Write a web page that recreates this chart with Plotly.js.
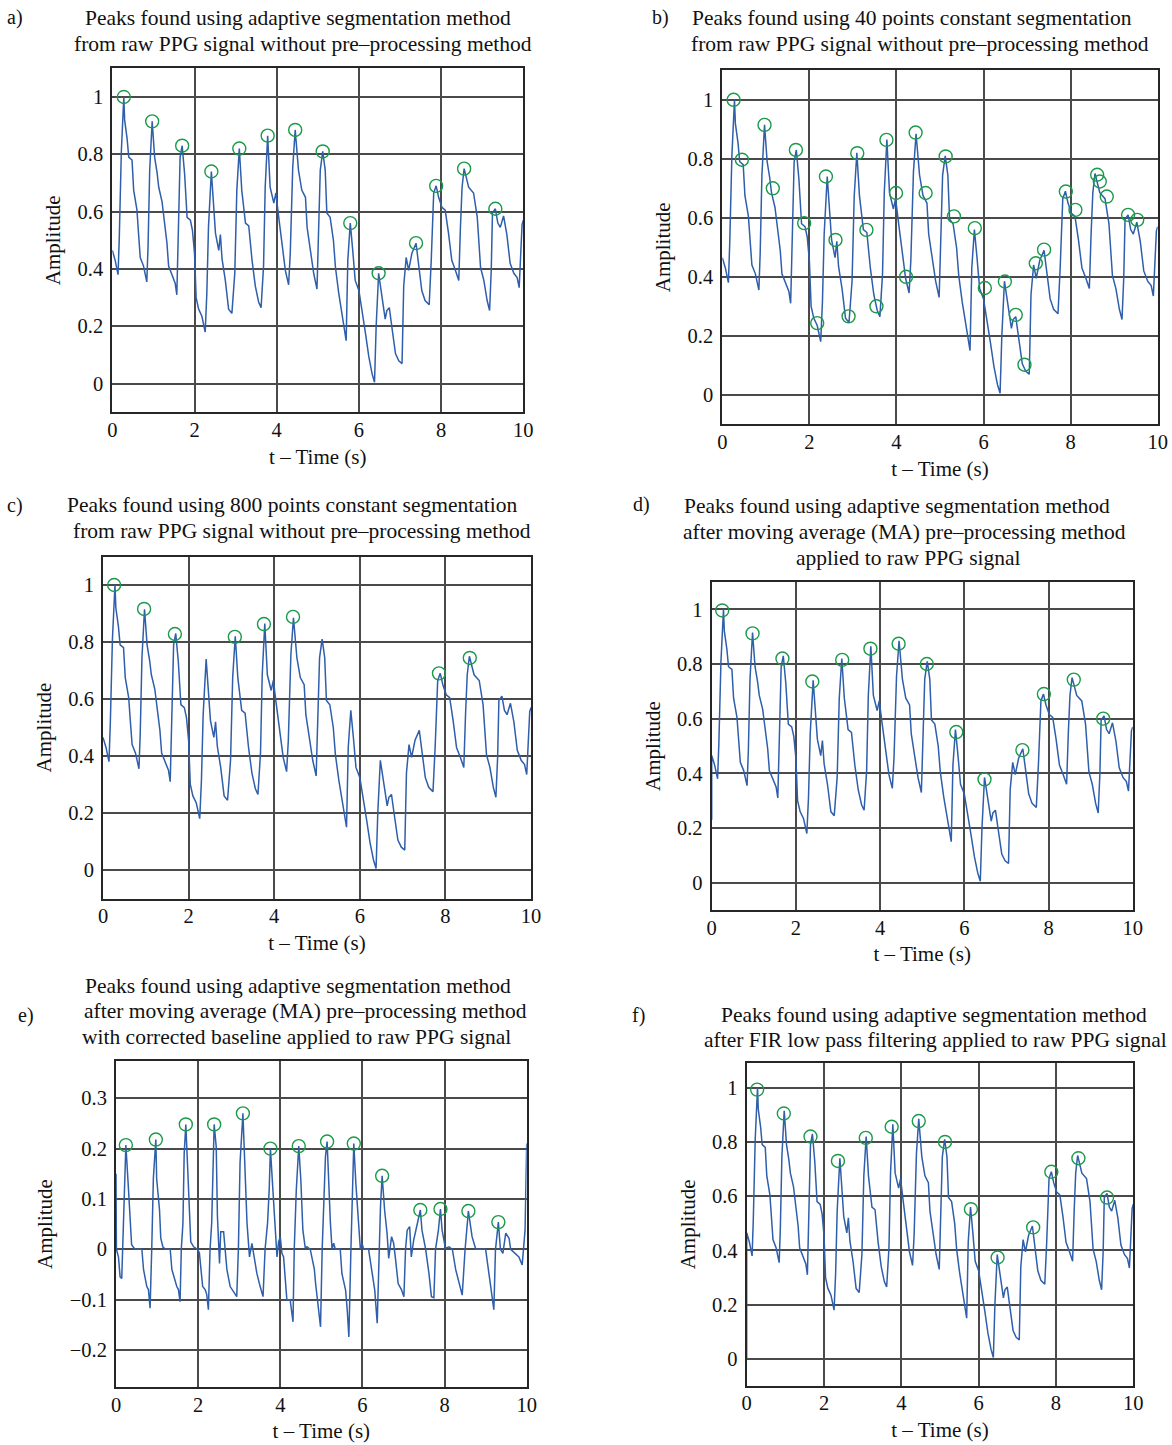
<!DOCTYPE html>
<html><head><meta charset="utf-8">
<script src="https://cdn.plot.ly/plotly-3.0.1.min.js"></script>
<style>html,body{margin:0;padding:0;background:#fff}#chart{width:1172px;height:1445px}</style>
</head><body><div id="chart"></div>
<script>
// ---------- data ----------
// raw PPG signal (plots a, b, c; d and f are nearly identical after smoothing)
const rawT = [0.00,0.07,0.14,0.17,0.22,0.28,0.30,0.36,0.40,0.48,0.52,0.60,0.64,0.68,0.76,0.84,0.87,0.91,0.97,1.03,1.09,1.13,1.21,1.27,1.33,1.37,1.45,1.53,1.57,1.61,1.65,1.70,1.76,1.82,1.90,1.95,2.00,2.04,2.10,2.18,2.26,2.30,2.34,2.41,2.47,2.51,2.59,2.63,2.67,2.75,2.83,2.91,2.98,3.03,3.09,3.15,3.24,3.32,3.40,3.48,3.56,3.62,3.68,3.72,3.78,3.84,3.93,3.98,4.05,4.13,4.21,4.29,4.33,4.39,4.45,4.53,4.61,4.70,4.74,4.82,4.90,4.98,5.02,5.06,5.12,5.18,5.22,5.30,5.38,5.43,5.51,5.59,5.63,5.69,5.73,5.79,5.85,5.91,6.00,6.08,6.16,6.24,6.32,6.38,6.42,6.48,6.56,6.64,6.68,6.74,6.80,6.89,6.97,7.05,7.09,7.15,7.21,7.29,7.39,7.46,7.53,7.61,7.71,7.76,7.82,7.88,7.94,8.02,8.10,8.18,8.26,8.35,8.43,8.47,8.51,8.56,8.67,8.79,8.88,8.96,9.04,9.12,9.18,9.22,9.25,9.32,9.38,9.44,9.52,9.60,9.68,9.77,9.85,9.90,9.97,10.0];
const rawV = [0.465,0.43,0.38,0.51,0.81,1.00,0.92,0.855,0.79,0.78,0.675,0.605,0.52,0.44,0.41,0.355,0.48,0.745,0.915,0.79,0.735,0.685,0.635,0.56,0.49,0.41,0.38,0.35,0.31,0.52,0.79,0.83,0.73,0.58,0.57,0.535,0.455,0.30,0.26,0.235,0.18,0.315,0.545,0.74,0.615,0.525,0.465,0.52,0.435,0.36,0.26,0.245,0.385,0.675,0.82,0.675,0.56,0.55,0.43,0.34,0.285,0.265,0.41,0.685,0.865,0.685,0.63,0.665,0.58,0.48,0.395,0.345,0.455,0.755,0.885,0.745,0.675,0.65,0.545,0.465,0.385,0.33,0.52,0.745,0.81,0.745,0.595,0.58,0.50,0.405,0.315,0.245,0.21,0.15,0.43,0.56,0.465,0.36,0.325,0.255,0.175,0.095,0.035,0.005,0.20,0.385,0.30,0.225,0.255,0.265,0.20,0.105,0.08,0.07,0.34,0.44,0.395,0.455,0.49,0.405,0.325,0.29,0.275,0.43,0.665,0.69,0.65,0.615,0.605,0.525,0.43,0.395,0.36,0.545,0.685,0.75,0.685,0.665,0.58,0.405,0.36,0.29,0.255,0.395,0.595,0.61,0.56,0.545,0.585,0.52,0.42,0.385,0.37,0.335,0.555,0.57];

// start-up samples of the moving-average (d) and FIR-filtered (f) signals
const maLeadT = [0.0];
const maLeadV = [0.23];
const firLeadT = [0.0];
const firLeadV = [0.0];

// baseline-corrected MA signal (plot e)
const baseT = [0.00,0.01,0.06,0.10,0.14,0.16,0.20,0.22,0.24,0.30,0.34,0.38,0.46,0.63,0.67,0.71,0.75,0.79,0.83,0.87,0.91,0.97,0.99,1.06,1.09,1.14,1.20,1.32,1.36,1.41,1.48,1.52,1.56,1.59,1.63,1.66,1.70,1.74,1.78,1.82,1.89,1.98,2.03,2.06,2.11,2.17,2.21,2.25,2.29,2.33,2.39,2.44,2.47,2.52,2.55,2.62,2.66,2.70,2.78,2.86,2.94,2.98,3.02,3.09,3.13,3.19,3.25,3.31,3.35,3.43,3.51,3.58,3.63,3.69,3.73,3.76,3.82,3.88,3.92,3.96,4.00,4.04,4.08,4.16,4.24,4.31,4.34,4.39,4.45,4.50,4.55,4.61,4.65,4.73,4.77,4.83,4.86,4.93,4.98,5.02,5.06,5.10,5.14,5.18,5.22,5.26,5.30,5.34,5.46,5.50,5.59,5.63,5.67,5.72,5.75,5.79,5.84,5.89,5.95,5.99,6.03,6.15,6.24,6.30,6.36,6.40,6.44,6.48,6.54,6.60,6.64,6.71,6.76,6.80,6.87,6.95,7.01,7.05,7.09,7.15,7.19,7.25,7.33,7.41,7.45,7.54,7.62,7.68,7.74,7.78,7.85,7.90,7.94,8.02,8.11,8.19,8.27,8.35,8.43,8.50,8.58,8.67,8.76,9.00,9.08,9.16,9.20,9.24,9.31,9.36,9.42,9.49,9.57,9.61,9.73,9.81,9.89,9.96,10.0];
const baseV = [0.15,0.0,-0.015,-0.055,-0.058,0.0,0.118,0.125,0.207,0.125,0.058,0.009,0.0,0.0,-0.04,-0.054,-0.074,-0.08,-0.117,0.0,0.141,0.218,0.14,0.078,0.022,0.005,0.0,0.0,-0.04,-0.054,-0.074,-0.08,-0.104,0.0,0.052,0.19,0.248,0.171,0.091,0.015,0.005,0.0,-0.007,-0.028,-0.074,-0.08,-0.09,-0.12,0.0,0.052,0.248,0.204,0.065,-0.028,0.035,0.035,-0.008,-0.04,-0.074,-0.084,-0.094,0.0,0.171,0.27,0.171,0.052,-0.015,0.012,-0.008,-0.048,-0.074,-0.094,0.0,0.052,0.118,0.20,0.118,0.032,-0.015,0.015,0.025,-0.008,-0.015,-0.1,-0.1,-0.144,0.0,0.118,0.205,0.138,0.038,0.002,0.005,0.0,-0.015,-0.04,-0.068,-0.12,-0.154,0.0,0.118,0.184,0.214,0.118,0.053,0.0,0.012,0.0,0.0,-0.048,-0.081,-0.12,-0.174,0.0,0.118,0.21,0.131,0.072,0.0,0.012,0.0,0.0,-0.048,-0.081,-0.147,0.0,0.085,0.146,0.078,0.032,-0.018,0.025,0.012,-0.015,-0.068,-0.08,-0.094,0.0,0.038,0.045,-0.015,0.019,0.05,0.078,0.038,0.0,-0.048,-0.094,-0.096,0.0,0.038,0.08,0.038,0.002,0.005,0.0,-0.04,-0.068,-0.091,0.0,0.076,0.025,0.0,0.0,-0.048,-0.094,-0.12,0.0,0.054,0.0,-0.008,0.032,0.022,0.0,-0.008,-0.015,-0.031,0.038,0.21];

// detected peaks
const peaksAT = [0.28,0.97,1.70,2.41,3.09,3.78,4.45,5.12,5.79,6.48,7.39,7.88,8.56,9.32];
const peaksAV = [1.00,0.915,0.83,0.74,0.82,0.865,0.885,0.81,0.56,0.385,0.49,0.69,0.75,0.61];
const peaksBT = [0.26,0.45,0.97,1.16,1.69,1.88,2.18,2.38,2.60,2.90,3.10,3.31,3.54,3.77,3.99,4.22,4.44,4.67,5.13,5.32,5.80,6.03,6.49,6.74,6.94,7.20,7.39,7.89,8.11,8.61,8.67,8.83,9.32,9.53];
const peaksBV = [1.00,0.797,0.915,0.70,0.83,0.582,0.243,0.74,0.525,0.266,0.819,0.559,0.30,0.864,0.684,0.40,0.889,0.684,0.808,0.605,0.565,0.362,0.384,0.271,0.102,0.446,0.492,0.689,0.627,0.746,0.723,0.672,0.61,0.593];
const peaksCT = [0.26,0.96,1.68,3.08,3.76,4.44,7.85,8.57];
const peaksCV = [1.00,0.916,0.828,0.818,0.863,0.888,0.69,0.744];
const peaksDT = [0.25,0.97,1.68,2.39,3.10,3.77,4.44,5.11,5.81,6.48,7.38,7.89,8.60,9.30];
const peaksDV = [0.996,0.912,0.82,0.736,0.815,0.856,0.874,0.80,0.551,0.378,0.485,0.69,0.743,0.60];
const peaksET = [0.24,0.97,1.70,2.39,3.09,3.76,4.45,5.14,5.79,6.48,7.41,7.90,8.58,9.31];
const peaksEV = [0.207,0.218,0.248,0.248,0.27,0.20,0.205,0.214,0.21,0.146,0.078,0.08,0.076,0.054];
const peaksFT = [0.27,0.96,1.65,2.36,3.08,3.75,4.45,5.13,5.80,6.49,7.41,7.88,8.58,9.32];
const peaksFV = [0.993,0.905,0.82,0.73,0.815,0.856,0.877,0.80,0.552,0.374,0.485,0.69,0.74,0.595];

const timeTicks = [0,2,4,6,8,10];
const ampTicks = [0,0.2,0.4,0.6,0.8,1];
const baseTicks = [-0.2,-0.1,0,0.1,0.2,0.3];

// ---------- layout ----------
const W = 1172, H = 1445;
const FONT = 'Liberation Serif, Times New Roman, serif';
const LINE = '#2f5eab', PEAK = '#1a9a4a';
const GRID = '#4a4a4a';

const panels = [
  {lab:'a)', labXY:[15,18], box:[112.3,523.3,68.3,412.3], yr:[-0.1,1.1], yt:ampTicks,
   t:rawT, v:rawV, pt:peaksAT, pv:peaksAV,
   lines:[['Peaks found using adaptive segmentation method',298,18],['from raw PPG signal without pre\u2013processing method',303,44]]},
  {lab:'b)', labXY:[660,18], box:[722.3,1157.7,70.3,424.3], yr:[-0.1,1.1], yt:ampTicks,
   t:rawT, v:rawV, pt:peaksBT, pv:peaksBV,
   lines:[['Peaks found using 40 points constant segmentation',912,18],['from raw PPG signal without pre\u2013processing method',920,44]]},
  {lab:'c)', labXY:[15,505], box:[103,531,556.5,898.5], yr:[-0.1,1.1], yt:ampTicks,
   t:rawT, v:rawV, pt:peaksCT, pv:peaksCV,
   lines:[['Peaks found using 800 points constant segmentation',292,505],['from raw PPG signal without pre\u2013processing method',302,531]]},
  {lab:'d)', labXY:[641,504], box:[711.7,1132.7,582,910], yr:[-0.1,1.1], yt:ampTicks,
   t:maLeadT.concat(rawT), v:maLeadV.concat(rawV), pt:peaksDT, pv:peaksDV,
   lines:[['Peaks found using adaptive segmentation method',897,506],['after moving average (MA) pre\u2013processing method',904,532],['applied to raw PPG signal',908,558]]},
  {lab:'e)', labXY:[26,1015], box:[116,526.7,1061,1387], yr:[-0.2735,0.374], yt:baseTicks,
   t:baseT, v:baseV, pt:peaksET, pv:peaksEV,
   lines:[['Peaks found using adaptive segmentation method',298,986],['after moving average (MA) pre\u2013processing method',305,1011],['with corrected baseline applied to raw PPG signal',296,1037]]},
  {lab:'f)', labXY:[638,1015], box:[746.7,1133.3,1063.3,1385.5], yr:[-0.098,1.09], yt:ampTicks,
   t:firLeadT.concat(rawT), v:firLeadV.concat(rawV), pt:peaksFT, pv:peaksFV,
   lines:[['Peaks found using adaptive segmentation method',934,1015],['after FIR low pass filtering applied to raw PPG signal',935,1040]]}
];

const traces = [], annotations = [];
const layout = {
  width: W, height: H, margin:{l:0,r:0,t:0,b:0},
  paper_bgcolor:'#ffffff', plot_bgcolor:'#ffffff',
  showlegend:false, font:{family:FONT, color:'#111', size:20}
};

panels.forEach((p, i) => {
  const n = i + 1;
  const xa = 'x' + n, ya = 'y' + n;
  traces.push({type:'scatter', mode:'lines', x:p.t, y:p.v, xaxis:xa, yaxis:ya,
    line:{color:LINE, width:1.5}, hoverinfo:'skip'});
  traces.push({type:'scatter', mode:'markers', x:p.pt, y:p.pv, xaxis:xa, yaxis:ya,
    marker:{symbol:'circle-open', size:13, color:PEAK, line:{color:PEAK, width:1.4}}, hoverinfo:'skip'});
  const [l, r, t, b] = p.box;
  layout['xaxis' + n] = {
    domain:[l/W, r/W], anchor:ya, range:[0,10], tickvals:timeTicks,
    showgrid:true, gridcolor:GRID, gridwidth:2, zeroline:false,
    showline:true, mirror:true, linecolor:'#262626', linewidth:2,
    ticks:'', ticklabelstandoff:-2, tickfont:{family:FONT, size:20.5, color:'#111'},
    title:{text:'t \u2013 Time (s)', font:{family:FONT, size:21, color:'#111'}, standoff:9}
  };
  layout['yaxis' + n] = {
    domain:[1 - b/H, 1 - t/H], anchor:xa, range:p.yr, tickvals:p.yt,
    showgrid:true, gridcolor:GRID, gridwidth:2, zeroline:false,
    showline:true, mirror:true, linecolor:'#262626', linewidth:2,
    ticks:'', ticklabelstandoff:3, tickfont:{family:FONT, size:20.5, color:'#111'},
    title:{text:'Amplitude', font:{family:FONT, size:21, color:'#111'}, standoff:11}
  };
  annotations.push({text:p.lab, xref:'paper', yref:'paper', x:p.labXY[0]/W, y:1 - p.labXY[1]/H,
    xanchor:'center', yanchor:'middle', showarrow:false, font:{family:FONT, size:20, color:'#111'}});
  p.lines.forEach(([txt, cx, cy]) => {
    annotations.push({text:txt, xref:'paper', yref:'paper', x:cx/W, y:1 - cy/H,
      xanchor:'center', yanchor:'middle', showarrow:false, font:{family:FONT, size:21.5, color:'#111'}});
  });
});
layout.annotations = annotations;

Plotly.newPlot('chart', traces, layout, {staticPlot:true, displayModeBar:false});
</script>
</body></html>
